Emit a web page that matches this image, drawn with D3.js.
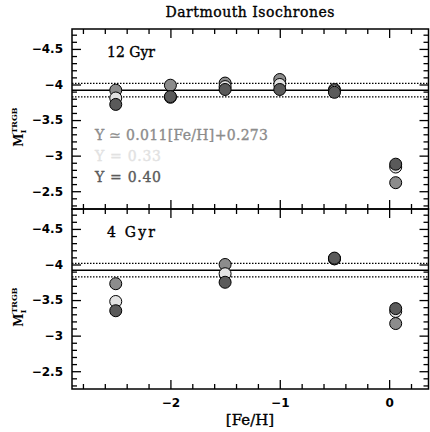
<!DOCTYPE html>
<html>
<head>
<meta charset="utf-8">
<script src="https://cdn.jsdelivr.net/npm/d3@7"></script>
<style>
body { margin: 0; background: #fff; }
</style>
</head>
<body>
<script>
// [Fe/H] of the models
const feh = [-2.5, -2.0, -1.5, -1.0, -0.5, 0.06]

// M_I(TRGB) for the 12 Gyr isochrones
const old_var = [-3.92, -3.99, -4.02, -4.07, -3.93, -2.62]
const old_y33 = [-3.81, -3.82, -3.97, -4.00, -3.91, -2.84]
const old_y40 = [-3.72, -3.83, -3.93, -3.93, -3.89, -2.88]

// M_I(TRGB) for the 4 Gyr isochrones (null = no model)
const young_var = [-3.73, null, -4.00, null, -4.08, -3.17]
const young_y33 = [-3.48, null, -3.87, null, -4.08, -3.34]
const young_y40 = [-3.35, null, -3.75, null, -4.09, -3.38]

// calibration: mean and +/- band
const refLevels = [-4.015, -3.92, -3.825]

const panelNames = ["12 Gyr", "4 Gyr"]
const modelNames = ["Y \u2243 0.011[Fe/H]+0.273", "Y = 0.33", "Y = 0.40"]
const yMajor = [-4.5, -4, -3.5, -3, -2.5]
const xMajor = [-2, -1, 0]

const fill = ["#8c8c8c", "#e2e2e2", "#5a5a5a"]
const legendWidth = [173, 66, 66]

var w = 430, h = 432
var mLeft = 72, mRight = 428.5, mTop = 29, ph = 180
var pw = mRight - mLeft

var svg = d3.select("body").append("svg")
    .attr("width", w)
    .attr("height", h)

var x = d3.scaleLinear().domain([-2.9, 0.36]).range([0, pw])
var y = d3.scaleLinear().domain([-4.78, -2.25]).range([0, ph])

var yMinor = d3.range(-47, -22).map(d => d / 10).filter(d => !yMajor.includes(d))
var xMinor = d3.range(-14, 2).map(d => d / 5).filter(d => !xMajor.includes(d))

// draw order: medium, light, dark
var sets = [
    [old_var, old_y33, old_y40],
    [young_var, young_y33, young_y40]
]
var fillOrder = [fill[0], fill[1], fill[2]]

function serif(sel, size) {
    sel.style("font-family", "DejaVu Serif")
        .style("font-size", size + "px")
        .attr("stroke", "currentColor")
        .attr("stroke-width", 0.35)
}

svg.append("text")
    .attr("x", 250).attr("y", 17)
    .attr("text-anchor", "middle")
    .attr("textLength", 169)
    .attr("lengthAdjust", "spacing")
    .call(serif, 14)
    .text("Dartmouth Isochrones")

panelNames.forEach(function(name, p) {
    var g = svg.append("g")
        .attr("transform", "translate(" + mLeft + "," + (mTop + p * ph) + ")")

    // reference lines
    refLevels.forEach(function(v, i) {
        g.append("line")
            .attr("x1", 0).attr("x2", pw)
            .attr("y1", y(v)).attr("y2", y(v))
            .attr("stroke", "#000")
            .attr("stroke-width", i == 1 ? 1.5 : 1.2)
            .attr("stroke-dasharray", i == 1 ? null : "1.5,1.5")
    })

    // points
    sets[p].forEach(function(vals, k) {
        var pts = feh.map((f, i) => [f, vals[i]]).filter(d => d[1] != null)
        g.selectAll(".pt" + k)
            .data(pts)
            .enter()
            .append("circle")
            .attr("cx", d => x(d[0]))
            .attr("cy", d => y(d[1]))
            .attr("r", 6)
            .attr("fill", fillOrder[k])
            .attr("stroke", "#000")
            .attr("stroke-width", 1)
    })

    // axes, ticks inside
    var axes = [
        [d3.axisLeft(y), 0, 0, yMajor, yMinor, true],
        [d3.axisRight(y), pw, 0, yMajor, yMinor, false],
        [d3.axisTop(x), 0, 0, xMajor, xMinor, false],
        [d3.axisBottom(x), 0, ph, xMajor, xMinor, p == 1]
    ]
    axes.forEach(function(a) {
        var major = a[0].tickValues(a[3]).tickSizeInner(-9).tickSizeOuter(0).tickPadding(9)
            .tickFormat(a[5] ? d3.format("") : "")
        var ga = g.append("g")
            .attr("transform", "translate(" + a[1] + "," + a[2] + ")")
            .call(major)
        ga.select(".domain").remove()
        ga.selectAll("line").attr("stroke-width", 1.3)
        ga.selectAll("text")
            .style("font-family", "DejaVu Sans")
            .style("font-weight", "bold")
            .style("font-size", "12px")
            .attr("fill", "#000")
        var minor = a[0].tickValues(a[4]).tickSizeInner(-5).tickFormat("")
        var gm = g.append("g")
            .attr("transform", "translate(" + a[1] + "," + a[2] + ")")
            .call(minor)
        gm.select(".domain").remove()
        gm.selectAll("line").attr("stroke-width", 1.3)
    })

    g.append("rect")
        .attr("width", pw).attr("height", ph)
        .attr("fill", "none")
        .attr("stroke", "#000")
        .attr("stroke-width", 1.5)

    g.append("text")
        .attr("x", 35).attr("y", 28)
        .attr("textLength", 48)
        .attr("lengthAdjust", "spacing")
        .call(serif, 14)
        .text(name)

    // y label
    var lab = g.append("text")
        .attr("transform", "translate(" + (23 - mLeft) + "," + (ph / 2 + 8) + ") rotate(-90)")
        .attr("text-anchor", "middle")
        .style("font-family", "DejaVu Serif")
        .style("font-weight", "bold")
        .style("font-size", "12px")
    lab.append("tspan").text("M")
    lab.append("tspan").attr("font-size", "8px").attr("dy", 3).text("I")
    lab.append("tspan").attr("font-size", "8px").attr("dx", -4).attr("dy", -9).text("TRGB")
})

// legend
modelNames.forEach(function(t, i) {
    svg.append("text")
        .attr("x", 95).attr("y", 140 + i * 21)
        .attr("fill", fill[i])
        .attr("textLength", legendWidth[i])
        .attr("lengthAdjust", "spacing")
        .style("color", fill[i])
        .call(serif, 14)
        .text(t)
})

svg.append("text")
    .attr("x", 250).attr("y", 425)
    .attr("text-anchor", "middle")
    .call(serif, 15)
    .text("[Fe/H]")
</script>
</body>
</html>
